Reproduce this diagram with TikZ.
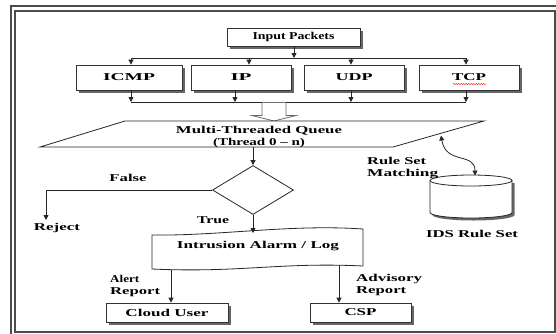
\documentclass[tikz,border=0pt]{standalone}
\usepackage{graphicx}
\usepackage{fontspec}
\setmainfont{Liberation Serif}
\usetikzlibrary{arrows.meta,shapes.geometric,shadows,decorations.pathmorphing}
\newcommand{\tx}[2]{\resizebox{#1pt}{\height}{\textbf{#2}}}
\begin{document}
\begin{tikzpicture}[x=1pt,y=-1pt,
  every node/.style={font=\fontsize{10.5}{12}\selectfont, inner sep=0pt},
  ln/.style={draw=black!85, line width=0.8pt},
  arr/.style={ln, -{Triangle[length=5pt,width=5pt]}},
  darr/.style={ln, {Triangle[length=5pt,width=5pt]}-{Triangle[length=5pt,width=5pt]}},
  sbox/.style={draw=black!80, line width=0.8pt, fill=white,
     general shadow={shadow xshift=2.5pt, shadow yshift=-2.5pt, fill=black!60}},
  frame/.style={draw=black!70, line width=1.3pt},
  lbl/.style={align=left, anchor=west}
]
\path[use as bounding box] (0,0) rectangle (556,333);
\clip (0,0) rectangle (556,333);
\fill[white] (0,0) rectangle (556,333);
% frame
\draw[frame] (11,6) rectangle (600,400);
\draw[frame] (15,11) rectangle (555,332);

% top boxes
\node[sbox, minimum width=133pt, minimum height=18pt] (inp) at (293.5,37) {\tx{82}{Input Packets}};
\node[sbox, minimum width=106pt, minimum height=25pt] (icmp) at (129,77.5) {\tx{52}{ICMP}};
\node[sbox, minimum width=100pt, minimum height=25pt] (ip) at (241,77.5) {\tx{21}{IP}};
\node[sbox, minimum width=100pt, minimum height=25pt] (udp) at (354,77.5) {\tx{37}{UDP}};
\node[sbox, minimum width=100pt, minimum height=25pt] (tcp) at (469,77.5) {\tx{34}{TCP}};
\draw[red, decorate, decoration={snake, amplitude=0.6pt, segment length=2.5pt}] (453,84) -- (486,84);

% upper bus
\coordinate (bin) at (294,58);
\coordinate (b1) at (131,58);
\coordinate (b2) at (249,58);
\coordinate (b3) at (351,58);
\coordinate (b4) at (466,58);
\draw[arr] (inp.south -| bin) -- (bin);
\draw[ln] (b1) -- (b4);
\draw[arr] (b1) -- (b1 |- icmp.north);
\draw[arr] (b2) -- (b2 |- ip.north);
\draw[arr] (b3) -- (b3 |- udp.north);
\draw[arr] (b4) -- (b4 |- tcp.north);

% lower bus
\coordinate (c1) at (131,102);
\coordinate (c2) at (235,102);
\coordinate (c3) at (351,102);
\coordinate (c4) at (466,102);
\draw[arr] (c1 |- icmp.south) -- (c1);
\draw[arr] (c2 |- ip.south) -- (c2);
\draw[arr] (c3 |- udp.south) -- (c3);
\draw[arr] (c4 |- tcp.south) -- (c4);
\draw[ln] (c1) -- (c4);

% hollow arrow
\draw[draw=black!60, line width=0.8pt, fill=white] (262,102.5) -- (262,115.5) -- (252,115.5) -- (274,121) -- (296,115.5) -- (286,115.5) -- (286,102.5);

% queue parallelogram
\coordinate (q1) at (125,121);
\coordinate (q2) at (484,121);
\coordinate (q3) at (393,147);
\coordinate (q4) at (40,147);
\draw[ln, fill=white] (q1) -- (q2) -- (q3) -- (q4) -- cycle;
\node[align=center] (queue) at (259,137) {\tx{166}{Multi-Threaded Queue}\\\tx{92}{(Thread 0 -- n)}};

% decision
\node[draw=black!85, line width=0.8pt, diamond, aspect=1.65, minimum width=81pt, minimum height=49pt] (dia) at (253,190) {};
\draw[arr] (dia.north |- q4) -- (dia.north);

% false branch
\coordinate (rej) at (46,220);
\draw[arr] (dia.west) -| (rej);
\node (false) at (128,178) {\tx{37}{False}};
\node (reject) at (57,227.5) {\tx{46}{Reject}};

% true branch / document
\node (true) at (213,220) {\tx{32}{True}};
\draw[ln, fill=white] (152,235) .. controls (220,236) and (290,224) .. (363,229)
   -- (363,266) .. controls (280,262) and (240,273) .. (152,269) -- cycle;
\node (doc) at (258,246) {\tx{162}{Intrusion Alarm / Log}};
\coordinate (dtop) at (253,233);
\draw[arr] (dia.south) -- (dtop);

% outputs
\node[sbox, minimum width=122pt, minimum height=19pt] (cloud) at (167,312.5) {\tx{83}{Cloud User}};
\node[sbox, minimum width=101pt, minimum height=19pt] (csp) at (360.5,312.5) {\tx{32}{CSP}};
\coordinate (d1) at (171,270);
\coordinate (d2) at (339,265);
\draw[arr] (d1) -- (d1 |- cloud.north);
\draw[arr] (d2) -- (d2 |- csp.north);
\node[lbl] (alert) at (110,285.5) {\tx{29}{Alert}\\\tx{50}{Report}};
\node[lbl] (adv) at (356,284.5) {\tx{66}{Advisory}\\\tx{50}{Report}};

% rule set database
\fill[black!60] (432.5,183) -- (432.5,215) arc[start angle=180, end angle=0, x radius=41, y radius=5.5] -- (514.5,183) -- cycle;
\draw[ln, fill=white] (430,180.5) -- (430,212.5) arc[start angle=180, end angle=0, x radius=41, y radius=5.5] -- (512,180.5);
\draw[ln, fill=white] (471,180.5) ellipse[x radius=41, y radius=5.5];
\coordinate (dbtop) at (475,175.5);
\node (ids) at (472,234) {\tx{92}{IDS Rule Set}};
\coordinate (qm) at (441,135.5);
\draw[darr] (qm) .. controls (446,165) and (475,152) .. (dbtop);
\node[lbl] (rsm) at (367,168) {\tx{59}{Rule Set}\\\tx{71}{Matching}};
\end{tikzpicture}
\end{document}
